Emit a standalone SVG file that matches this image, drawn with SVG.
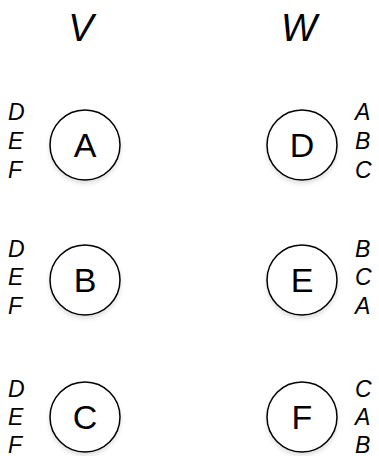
<svg xmlns="http://www.w3.org/2000/svg" width="379" height="456" viewBox="0 0 379 456">
<style>
.node circle{fill:#fff;stroke:#000;stroke-width:1.5;filter:url(#sh)}
.nl{font-family:"Liberation Sans",Arial,sans-serif;font-size:34px;text-anchor:middle;fill:#000}
.pl{font-family:"Liberation Sans",Arial,sans-serif;font-size:23px;font-style:italic;fill:#000}
.hd{font-family:"Liberation Sans",Arial,sans-serif;font-size:38px;font-style:italic;text-anchor:middle;fill:#000}
</style>
<defs>
<filter id="sh" x="-30%" y="-30%" width="160%" height="170%">
<feDropShadow dx="0" dy="3" stdDeviation="2" flood-color="#000" flood-opacity="0.12"/>
</filter>
</defs>
<rect width="379" height="456" fill="#fff"/>
<g id="headers">
<text class="hd" x="81" y="40.5">V</text>
<text class="hd" x="299" y="40.5">W</text>
</g>
<g id="connectors"></g>
<g id="node-A" class="node">
<circle cx="85" cy="145" r="35"/>
<text class="nl" x="85" y="157">A</text>
<text class="pl" x="8" y="119.5">D</text>
<text class="pl" x="8" y="148.5">E</text>
<text class="pl" x="8" y="177.5">F</text>
</g>
<g id="node-B" class="node">
<circle cx="85" cy="280" r="35"/>
<text class="nl" x="85" y="292">B</text>
<text class="pl" x="8" y="256.5">D</text>
<text class="pl" x="8" y="285">E</text>
<text class="pl" x="8" y="313.5">F</text>
</g>
<g id="node-C" class="node">
<circle cx="85" cy="417" r="35"/>
<text class="nl" x="85" y="429">C</text>
<text class="pl" x="8" y="396.5">D</text>
<text class="pl" x="8" y="425">E</text>
<text class="pl" x="8" y="453">F</text>
</g>
<g id="node-D" class="node">
<circle cx="302" cy="145" r="35"/>
<text class="nl" x="302" y="157">D</text>
<text class="pl" x="355" y="119.5">A</text>
<text class="pl" x="355" y="148.5">B</text>
<text class="pl" x="355" y="177.5">C</text>
</g>
<g id="node-E" class="node">
<circle cx="302" cy="280" r="35"/>
<text class="nl" x="302" y="292">E</text>
<text class="pl" x="355" y="256.5">B</text>
<text class="pl" x="355" y="285">C</text>
<text class="pl" x="355" y="313.5">A</text>
</g>
<g id="node-F" class="node">
<circle cx="302" cy="417" r="35"/>
<text class="nl" x="302" y="429">F</text>
<text class="pl" x="355" y="396.5">C</text>
<text class="pl" x="355" y="425">A</text>
<text class="pl" x="355" y="453">B</text>
</g>
</svg>
